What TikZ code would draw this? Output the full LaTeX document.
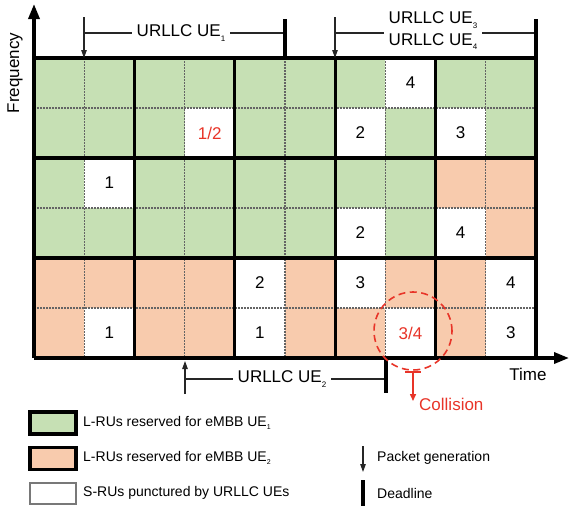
\documentclass[tikz,border=0pt]{standalone}
\usepackage{fontspec}
\setmainfont{Liberation Sans}
\usetikzlibrary{arrows.meta}
\definecolor{gfill}{RGB}{198,224,180}
\definecolor{ofill}{RGB}{248,203,173}
\definecolor{cred}{RGB}{232,52,40}
\definecolor{dotgray}{RGB}{100,100,100}
\definecolor{boxgray}{RGB}{120,120,120}
\newcommand{\subs}[1]{\raisebox{-0.5ex}{\fontsize{8}{8}\selectfont #1}}
\newcommand{\lsubs}[1]{\raisebox{-0.5ex}{\fontsize{7}{7}\selectfont #1}}
\begin{document}
\begin{tikzpicture}[x=1pt,y=-1pt,
  thickline/.style={line width=3.3pt},
  dotline/.style={dotgray, line width=1.2pt, dash pattern=on 1.6pt off 1.4pt},
  thinline/.style={black!85, line width=1.1pt},
  pktarrow/.style={thinline, -{Triangle[length=8pt,width=5.5pt]}},
  bigtext/.style={font=\fontsize{17}{21}\selectfont, inner sep=0pt},
  lbltext/.style={font=\fontsize{17}{21}\selectfont, inner sep=5pt},
  legtext/.style={font=\fontsize{14}{17}\selectfont, anchor=west, inner sep=0pt},
  numlabel/.style={font=\fontsize{17}{21}\selectfont, inner sep=0pt},
  legbox/.style={thickline, minimum width=46pt, minimum height=22pt}
]
\useasboundingbox (0,0) rectangle (569,506);

% ---------- grid ----------
\begin{scope}[xshift=34pt, yshift=-58pt, x=50.2pt, y=-50pt]
  \fill[gfill] (0,0) rectangle (10,2);
  \fill[gfill] (0,2) rectangle (8,4);
  \fill[ofill] (8,2) rectangle (10,4);
  \fill[ofill] (0,4) rectangle (10,6);
  \foreach \c/\r/\t in {7/0/4, 6/1/2, 8/1/3, 1/2/1, 6/3/2, 8/3/4, 4/4/2, 6/4/3, 9/4/4, 1/5/1, 4/5/1, 9/5/3} {
    \fill[white] (\c,\r) rectangle ++(1,1);
    \node[numlabel] (n\c\r) at (\c+0.5,\r+0.5) {\t};
  }
  \fill[white] (3,1) rectangle ++(1,1);
  \fill[white] (7,5) rectangle ++(1,1);
  \node[numlabel, text=cred] (n31) at (3.5,1.5) {1/2};
  \node[numlabel, text=cred] (n75) at (7.5,5.5) {3/4};
  \foreach \i in {1,3,5,7,9} \draw[dotline] (\i,0) -- (\i,6);
  \foreach \j in {1,3,5} \draw[dotline] (0,\j) -- (10,\j);
  \foreach \i in {2,4,6,8,10} \draw[thickline] (\i,0) -- (\i,6);
  \foreach \j in {0,2,4} \draw[thickline] (0,\j) -- (10,\j);
  \coordinate (origin) at (0,6);
\end{scope}

% ---------- axes ----------
\coordinate (ftip) at (34,4);
\coordinate (ttip) at (569,358);
\draw[thickline, -{Triangle[length=15pt,width=11pt]}] (origin) -- (ftip);
\draw[thickline, -{Triangle[length=15pt,width=11pt]}] (origin) -- (ttip);
\node[bigtext, rotate=90] (freq) at (15,73) {Frequency};
\node[bigtext] (time) at (528,374) {Time};

% ---------- URLLC UE1 ----------
\coordinate (g1top) at (84,17);
\coordinate (g1bot) at (84,58);
\coordinate (g1h) at (84,33);
\coordinate (d1top) at (285,19);
\coordinate (d1bot) at (285,58);
\coordinate (d1h) at (285,33);
\node[lbltext] (ue1) at (181,33) {URLLC UE\subs{1}};
\draw[pktarrow] (g1top) -- (g1bot);
\draw[thinline] (g1h) -- (ue1.west |- g1h);
\draw[thinline] (ue1.east |- d1h) -- (d1h);
\draw[thickline] (d1top) -- (d1bot);

% ---------- URLLC UE3 / UE4 ----------
\coordinate (g3top) at (335,17);
\coordinate (g3bot) at (335,58);
\coordinate (g3h) at (335,33);
\coordinate (d3top) at (536,19);
\coordinate (d3bot) at (536,58);
\coordinate (d3h) at (536,33);
\node[lbltext, align=center, font=\fontsize{17}{21.5}\selectfont] (ue34) at (433,31) {URLLC UE\subs{3}\\URLLC UE\subs{4}};
\draw[pktarrow] (g3top) -- (g3bot);
\draw[thinline] (g3h) -- (ue34.west |- g3h);
\draw[thinline] (ue34.east |- d3h) -- (d3h);
\draw[thickline] (d3top) -- (d3bot);

% ---------- URLLC UE2 ----------
\coordinate (g2bot) at (185,394);
\coordinate (g2top) at (185,361);
\coordinate (g2h) at (185,379);
\coordinate (d2top) at (386,358);
\coordinate (d2bot) at (386,393);
\coordinate (d2h) at (386,379);
\node[lbltext] (ue2) at (282,379) {URLLC UE\subs{2}};
\draw[pktarrow] (g2bot) -- (g2top);
\draw[thinline] (g2h) -- (ue2.west |- g2h);
\draw[thinline] (ue2.east |- d2h) -- (d2h);
\draw[thickline] (d2top) -- (d2bot);

% ---------- collision ----------
\coordinate (cc) at (413,331);
\draw[cred, line width=1.6pt, dash pattern=on 7pt off 4.5pt] (cc) circle (39pt);
\coordinate (cbarl) at (405,372);
\coordinate (cbarr) at (421,372);
\coordinate (cstart) at (413,372);
\coordinate (cend) at (413,401);
\draw[cred, line width=1.5pt] (cbarl) -- (cbarr);
\draw[cred, line width=1.5pt, -{Triangle[length=7pt,width=6pt]}] (cstart) -- (cend);
\node[bigtext, anchor=west, text=cred] (coll) at (419,404) {Collision};

% ---------- legend ----------
\node[legbox, draw=black, fill=gfill] (lb1) at (53,423) {};
\node[legbox, draw=black, fill=ofill] (lb2) at (53,458.5) {};
\node[draw=boxgray, line width=1.3pt, fill=white, minimum width=46pt, minimum height=21pt] (lb3) at (53,493.5) {};
\node[legtext] (lt1) at (83,423) {L-RUs reserved for eMBB UE\lsubs{1}};
\node[legtext] (lt2) at (83,458) {L-RUs reserved for eMBB UE\lsubs{2}};
\node[legtext] (lt3) at (83,493) {S-RUs punctured by URLLC UEs};
\coordinate (pgtop) at (363,446);
\coordinate (pgbot) at (363,472);
\draw[pktarrow] (pgtop) -- (pgbot);
\node[legtext] (lt4) at (377,458) {Packet generation};
\coordinate (dltop) at (363,480);
\coordinate (dlbot) at (363,506);
\draw[thickline] (dltop) -- (dlbot);
\node[legtext] (lt5) at (377,493) {Deadline};
\end{tikzpicture}
\end{document}
